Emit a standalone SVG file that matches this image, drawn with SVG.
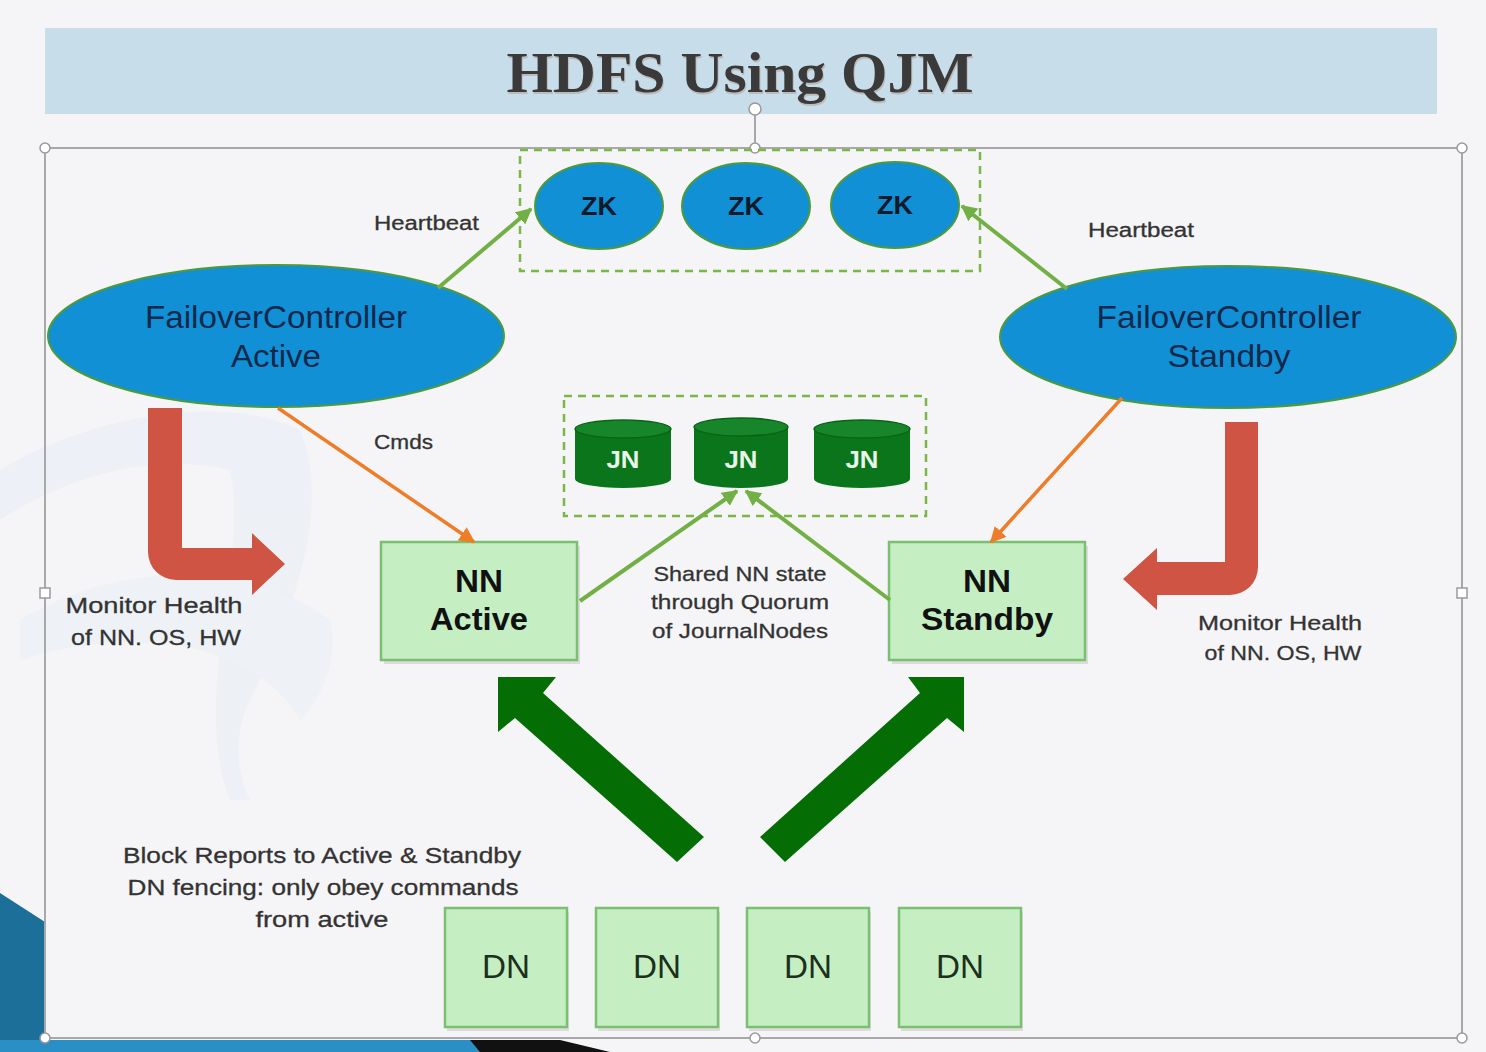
<svg xmlns="http://www.w3.org/2000/svg" width="1486" height="1052" viewBox="0 0 1486 1052">
<defs>
<style>
.lbl{font-family:"Liberation Sans",Arial,sans-serif;fill:#333;stroke:#333;stroke-width:0.3;}
.fc{font-family:"Liberation Sans",Arial,sans-serif;font-size:31px;fill:#10284a;text-anchor:middle;}
.zk{fill:#1190d6;stroke:#4d9a3c;stroke-width:2;}
.zkt{font-family:"Liberation Sans",Arial,sans-serif;font-weight:bold;font-size:25px;fill:#0d1a2a;text-anchor:middle;}
.nn{fill:#c5efc3;stroke:#7cbf72;stroke-width:2.5;}
.nnt{font-family:"Liberation Sans",Arial,sans-serif;font-weight:bold;font-size:32px;fill:#111;text-anchor:middle;}
.dn{fill:#c5efc3;stroke:#7cbf72;stroke-width:2.5;}
.dnt{font-family:"Liberation Sans",Arial,sans-serif;font-size:33px;fill:#1c301c;text-anchor:middle;}
.jnb{fill:#0b751b;}
.jnt{fill:#17862a;stroke:#0a6416;stroke-width:1.5;}
.jntx{font-family:"Liberation Sans",Arial,sans-serif;font-weight:bold;font-size:23px;fill:#e8f5e8;text-anchor:middle;}
.dash{fill:none;stroke:#7ab648;stroke-width:2.5;stroke-dasharray:8 6;}
.grn{stroke:#72b046;stroke-width:4;fill:none;}
.org{stroke:#ee7d2a;stroke-width:3.5;fill:none;}
.red{fill:#cf5443;}
.big{fill:#046e04;}
.hdl{fill:#fff;stroke:#9a9a9a;stroke-width:1.5;}
.shadow{fill:#000;opacity:0.10;}
</style>
<marker id="ag" viewBox="0 0 10 10" refX="9" refY="5" markerWidth="16" markerHeight="16" markerUnits="userSpaceOnUse" orient="auto">
<path d="M0,0 L10,5 L0,10 Z" fill="#72b046"/>
</marker>
<marker id="ao" viewBox="0 0 10 10" refX="9" refY="5" markerWidth="16" markerHeight="16" markerUnits="userSpaceOnUse" orient="auto">
<path d="M0,0 L10,5 L0,10 Z" fill="#ee7d2a"/>
</marker>
</defs>

<!-- background -->
<rect x="0" y="0" width="1486" height="1052" fill="#f5f5f7"/>

<!-- faint watermark logo -->
<g id="watermark" opacity="0.35">
<path d="M0,470 C80,420 220,390 300,430 C330,500 300,600 250,700 C230,740 240,780 250,800 L230,800 C190,700 250,560 230,470 C150,450 60,480 0,520 Z" fill="#dfe9f4"/>
<path d="M20,620 C120,560 250,560 330,620 C340,660 320,700 300,720 C260,650 150,620 20,660 Z" fill="#e3edf7"/>
</g>

<!-- slide template decoration -->
<g id="template">
<polygon points="0,893 45,922 45,1040 0,1040" fill="#1b6f99"/>
<rect x="0" y="1040" width="480" height="12" fill="#2a8fc4"/>
<polygon points="470,1040 560,1040 610,1052 480,1052" fill="#111"/>
</g>

<!-- title -->
<g id="title">
<rect x="45" y="28" width="1392" height="86" fill="#c7dde9"/>
<text x="741" y="94" font-family="'Liberation Serif','Times New Roman',serif" font-weight="bold" font-size="58" fill="#bbb" text-anchor="middle" textLength="467" lengthAdjust="spacingAndGlyphs">HDFS Using QJM</text>
<text x="740" y="92" font-family="'Liberation Serif','Times New Roman',serif" font-weight="bold" font-size="58" fill="#3a3a3a" text-anchor="middle" textLength="467" lengthAdjust="spacingAndGlyphs">HDFS Using QJM</text>
</g>

<!-- selection frame -->
<g id="selection">
<rect x="45" y="148" width="1417" height="890" fill="none" stroke="#a8a8a8" stroke-width="2"/>
<line x1="755" y1="114" x2="755" y2="148" stroke="#a8a8a8" stroke-width="2"/>
<circle class="hdl" cx="755" cy="109" r="6"/>
<circle class="hdl" cx="45" cy="148" r="5"/>
<circle class="hdl" cx="755" cy="148" r="5"/>
<circle class="hdl" cx="1462" cy="148" r="5"/>
<rect class="hdl" x="40" y="588" width="10" height="10"/>
<rect class="hdl" x="1457" y="588" width="10" height="10"/>
<circle class="hdl" cx="45" cy="1038" r="5"/>
<circle class="hdl" cx="755" cy="1038" r="5"/>
<circle class="hdl" cx="1462" cy="1038" r="5"/>
</g>

<!-- ZooKeeper group -->
<g id="zk-group">
<rect class="dash" x="520" y="150" width="460" height="121"/>
</g>
<g id="zk1"><ellipse class="zk" cx="599" cy="206" rx="64" ry="43"/><text class="zkt" x="599" y="215" textLength="36" lengthAdjust="spacingAndGlyphs">ZK</text></g>
<g id="zk2"><ellipse class="zk" cx="746" cy="206" rx="64" ry="43"/><text class="zkt" x="746" y="215" textLength="36" lengthAdjust="spacingAndGlyphs">ZK</text></g>
<g id="zk3"><ellipse class="zk" cx="895" cy="205" rx="64" ry="43"/><text class="zkt" x="895" y="214" textLength="36" lengthAdjust="spacingAndGlyphs">ZK</text></g>

<!-- Failover controllers -->
<g id="fc-active">
<ellipse class="zk" cx="276" cy="336" rx="228" ry="71"/>
<text class="fc" x="276" y="328" textLength="262" lengthAdjust="spacingAndGlyphs">FailoverController</text>
<text class="fc" x="276" y="367" textLength="90" lengthAdjust="spacingAndGlyphs">Active</text>
</g>
<g id="fc-standby">
<ellipse class="zk" cx="1228" cy="337" rx="228" ry="71"/>
<text class="fc" x="1229" y="328" textLength="265" lengthAdjust="spacingAndGlyphs">FailoverController</text>
<text class="fc" x="1229" y="367" textLength="123" lengthAdjust="spacingAndGlyphs">Standby</text>
</g>

<!-- JournalNodes -->
<g id="jn-group">
<rect class="dash" x="564" y="396" width="362" height="120"/>
</g>
<g id="jn1">
<path class="jnb" d="M575,429 V479 A48,9 0 0 0 671,479 V429 Z"/>
<ellipse class="jnt" cx="623" cy="429" rx="48" ry="9"/>
<text class="jntx" x="623" y="468" textLength="33" lengthAdjust="spacingAndGlyphs">JN</text>
</g>
<g id="jn2">
<path class="jnb" d="M694,427 V479 A47,9 0 0 0 788,479 V427 Z"/>
<ellipse class="jnt" cx="741" cy="427" rx="47" ry="9"/>
<text class="jntx" x="741" y="468" textLength="33" lengthAdjust="spacingAndGlyphs">JN</text>
</g>
<g id="jn3">
<path class="jnb" d="M814,429 V479 A48,9 0 0 0 910,479 V429 Z"/>
<ellipse class="jnt" cx="862" cy="429" rx="48" ry="9"/>
<text class="jntx" x="862" y="468" textLength="33" lengthAdjust="spacingAndGlyphs">JN</text>
</g>

<!-- NameNodes -->
<g id="nn-active">
<rect class="shadow" x="384" y="546" width="196" height="118"/>
<rect class="nn" x="381" y="542" width="196" height="118"/>
<text class="nnt" x="479" y="592" textLength="48" lengthAdjust="spacingAndGlyphs">NN</text>
<text class="nnt" x="479" y="630" textLength="98" lengthAdjust="spacingAndGlyphs">Active</text>
</g>
<g id="nn-standby">
<rect class="shadow" x="892" y="546" width="196" height="118"/>
<rect class="nn" x="889" y="542" width="196" height="118"/>
<text class="nnt" x="987" y="592" textLength="48" lengthAdjust="spacingAndGlyphs">NN</text>
<text class="nnt" x="987" y="630" textLength="132" lengthAdjust="spacingAndGlyphs">Standby</text>
</g>

<!-- DataNodes -->
<g id="dn1"><rect class="shadow" x="447" y="912" width="122" height="119"/><rect class="dn" x="445" y="908" width="122" height="119"/><text class="dnt" x="506" y="978" textLength="48" lengthAdjust="spacingAndGlyphs">DN</text></g>
<g id="dn2"><rect class="shadow" x="598" y="912" width="122" height="119"/><rect class="dn" x="596" y="908" width="122" height="119"/><text class="dnt" x="657" y="978" textLength="48" lengthAdjust="spacingAndGlyphs">DN</text></g>
<g id="dn3"><rect class="shadow" x="749" y="912" width="122" height="119"/><rect class="dn" x="747" y="908" width="122" height="119"/><text class="dnt" x="808" y="978" textLength="48" lengthAdjust="spacingAndGlyphs">DN</text></g>
<g id="dn4"><rect class="shadow" x="901" y="912" width="122" height="119"/><rect class="dn" x="899" y="908" width="122" height="119"/><text class="dnt" x="960" y="978" textLength="48" lengthAdjust="spacingAndGlyphs">DN</text></g>

<!-- connectors -->
<g id="connectors">
<line class="grn" x1="438" y1="288" x2="531" y2="209" marker-end="url(#ag)"/>
<line class="grn" x1="1067" y1="289" x2="962" y2="206" marker-end="url(#ag)"/>
<line class="org" x1="278" y1="408" x2="474" y2="542" marker-end="url(#ao)"/>
<line class="org" x1="1122" y1="398" x2="991" y2="542" marker-end="url(#ao)"/>
<line class="grn" x1="580" y1="601" x2="737" y2="491" marker-end="url(#ag)"/>
<line class="grn" x1="890" y1="600" x2="746" y2="491" marker-end="url(#ag)"/>
<path class="red" d="M148,408 H182 V548 H252 V533 L285,564 L252,595 V580 H176 A28,28 0 0 1 148,552 Z"/>
<path class="red" d="M1225,422 H1258 V567 A28,28 0 0 1 1230,595 H1157 V610 L1123,579 L1157,548 V562 H1225 Z"/>
<polygon class="big" points="498,677 556,677 543,693 704,837 677,862 515,718 498,732"/>
<polygon class="big" points="964,677 908,677 920,693 760,837 785,862 947,718 964,732"/>
</g>

<!-- labels -->
<g id="labels">
<text class="lbl" x="374" y="230" font-size="20" textLength="105" lengthAdjust="spacingAndGlyphs">Heartbeat</text>
<text class="lbl" x="1088" y="237" font-size="20" textLength="106" lengthAdjust="spacingAndGlyphs">Heartbeat</text>
<text class="lbl" x="374" y="449" font-size="20" textLength="59" lengthAdjust="spacingAndGlyphs">Cmds</text>
<text class="lbl" x="740" y="581" font-size="21" text-anchor="middle" textLength="173" lengthAdjust="spacingAndGlyphs">Shared NN state</text>
<text class="lbl" x="740" y="609" font-size="21" text-anchor="middle" textLength="178" lengthAdjust="spacingAndGlyphs">through Quorum</text>
<text class="lbl" x="740" y="638" font-size="21" text-anchor="middle" textLength="176" lengthAdjust="spacingAndGlyphs">of JournalNodes</text>
<text class="lbl" x="154" y="613" font-size="22" text-anchor="middle" textLength="177" lengthAdjust="spacingAndGlyphs">Monitor Health</text>
<text class="lbl" x="156" y="645" font-size="22" text-anchor="middle" textLength="170" lengthAdjust="spacingAndGlyphs">of NN. OS, HW</text>
<text class="lbl" x="1280" y="630" font-size="21" text-anchor="middle" textLength="164" lengthAdjust="spacingAndGlyphs">Monitor Health</text>
<text class="lbl" x="1283" y="660" font-size="21" text-anchor="middle" textLength="157" lengthAdjust="spacingAndGlyphs">of NN. OS, HW</text>
<text class="lbl" x="322" y="863" font-size="22" text-anchor="middle" textLength="398" lengthAdjust="spacingAndGlyphs">Block Reports to Active &amp; Standby</text>
<text class="lbl" x="323" y="895" font-size="22" text-anchor="middle" textLength="391" lengthAdjust="spacingAndGlyphs">DN fencing: only obey commands</text>
<text class="lbl" x="322" y="927" font-size="22" text-anchor="middle" textLength="133" lengthAdjust="spacingAndGlyphs">from active</text>
</g>
</svg>
